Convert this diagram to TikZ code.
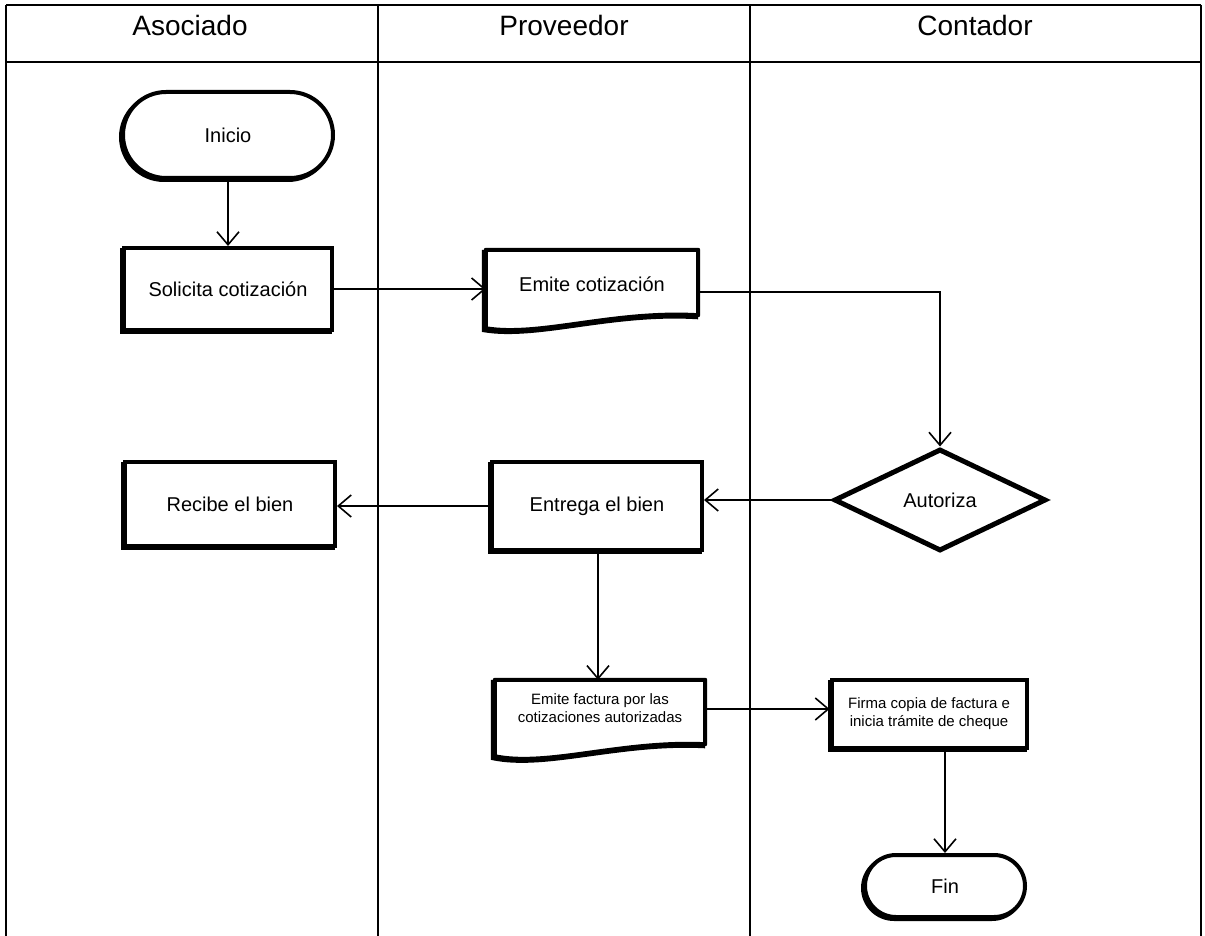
\documentclass[tikz,border=0pt]{standalone}
\usepackage{fontspec}
\setmainfont{Liberation Sans}
\usetikzlibrary{arrows.meta,shapes.geometric,shapes.misc,shadows,calc}
\pgfdeclarelayer{background}
\pgfsetlayers{background,main}

\begin{document}
\begin{tikzpicture}[x=1pt,y=-1pt,
  lane/.style={line width=1.4pt},
  lanehead/.style={anchor=base,font=\fontsize{28}{32}\selectfont},
  flow/.style={line width=1.6pt,-{Straight Barb[length=13pt,width=22pt,line width=1.6pt]}},
  heavy/.style={line width=4pt,general shadow={draw=black,line width=4pt,shadow xshift=-2pt,shadow yshift=-2pt}},
  bigtext/.style={font=\fontsize{20}{24}\selectfont},
  smalltext/.style={font=\fontsize{15}{18}\selectfont,align=center},
  procbox/.style={rectangle,draw,fill=white,heavy,inner sep=0pt},
  terminal/.style={rounded rectangle,draw,fill=white,heavy,inner sep=0pt},
  decision/.style={diamond,draw,fill=white,line width=5pt,inner sep=0pt},
  docbody/.style={rectangle,inner sep=0pt},
  docline/.style={draw,fill=white,heavy,line join=round}
]
\useasboundingbox (0,0) rectangle (1205,936);

% swimlane frame
\draw[lane,line width=2pt] (6,5) -- (1201,5);
\draw[lane] (6,62) -- (1201,62);
\draw[lane] (6,5) -- (6,936);
\draw[lane] (378,5) -- (378,936);
\draw[lane] (750,5) -- (750,936);
\draw[lane] (1201,5) -- (1201,936);

\node[lanehead] (hAso) at (190,36) {Asociado};
\node[lanehead] (hPro) at (564,36) {Proveedor};
\node[lanehead] (hCon) at (975,36) {Contador};

% flow shapes
\node[terminal,bigtext,minimum width=210pt,minimum height=86pt] (inicio) at (228,135) {Inicio};
\node[procbox,bigtext,minimum width=208pt,minimum height=82pt] (solicita) at (228,289) {Solicita cotización};

\node[docbody,minimum width=212pt,minimum height=70pt] (emcot) at (592,285) {};
\node[bigtext] (emcotlbl) at (592,284) {Emite cotización};

\node[decision,bigtext,minimum width=212pt,minimum height=102pt] (autoriza) at (940,500) {Autoriza};

\node[procbox,bigtext,minimum width=210pt,minimum height=88pt] (entrega) at (597,506) {Entrega el bien};
\node[procbox,bigtext,minimum width=210pt,minimum height=84pt] (recibe) at (230,504) {Recibe el bien};

\node[docbody,minimum width=210pt,minimum height=70pt] (factura) at (600,715) {};
\node[smalltext] (facturalbl) at (600,708) {Emite factura por las\\cotizaciones autorizadas};

\node[procbox,smalltext,minimum width=195pt,minimum height=68pt] (firma) at (929,714) {Firma copia de factura e\\inicia trámite de cheque};

\node[terminal,bigtext,minimum width=160pt,minimum height=62pt] (fin) at (945,886) {Fin};

% document outlines with wavy lower edge
\begin{pgfonlayer}{background}
\foreach \d/\up/\down in {emcot/5/8, factura/6/6} {
  \draw[docline] (\d.north west) -- (\d.north east)
    -- ($(\d.south east)+(0,-\up)$)
    .. controls ($(\d.south west)!0.6!(\d.south east)+(0,-10)$)
           and ($(\d.south west)!0.25!(\d.south east)+(0,17)$)
    .. ($(\d.south west)+(0,\down)$) -- cycle;
}
\end{pgfonlayer}

% connectors
\draw[flow] (inicio.south) -- (solicita.north);
\draw[flow] (solicita.east) -- (solicita.east -| emcot.west);
\draw[flow] ([yshift=-7pt]emcot.east) -| (autoriza.north);
\draw[flow] (autoriza.west) -- (autoriza.west -| entrega.east);
\draw[flow] (entrega.west) -- (entrega.west -| recibe.east);
\draw[flow] (entrega.south -| factura.north) ++(-2,0) coordinate (eb) (eb) -- (eb |- factura.north);
\draw[flow] ([yshift=6pt]factura.east) -- ([yshift=6pt]factura.east -| firma.west);
\draw[flow] (firma.south -| fin.north) -- (fin.north);
\end{tikzpicture}
\end{document}
